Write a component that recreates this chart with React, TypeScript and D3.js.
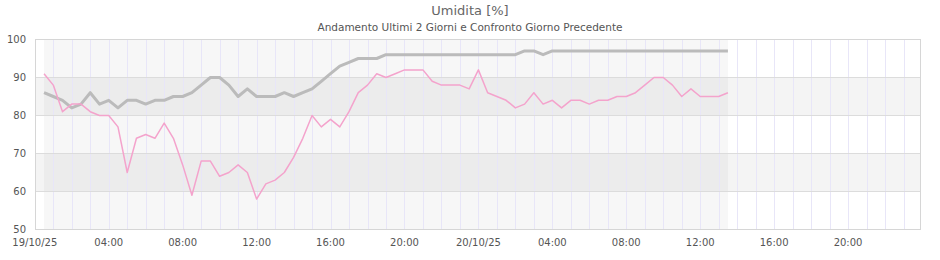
import React from "react";
import * as d3 from "d3";

const TITLE = "Umidita [%]";
const SUBTITLE = "Andamento Ultimi 2 Giorni e Confronto Giorno Precedente";

// half-hourly samples starting 19/10/25 00:30
const currentValues = [
  91, 88, 81, 83, 83, 81, 80, 80, 77, 65, 74, 75, 74, 78, 74, 67, 59, 68, 68, 64,
  65, 67, 65, 58, 62, 63, 65, 69, 74, 80, 77, 79, 77, 81, 86, 88, 91, 90, 91, 92,
  92, 92, 89, 88, 88, 88, 87, 92, 86, 85, 84, 82, 83, 86, 83, 84, 82, 84, 84, 83,
  84, 84, 85, 85, 86, 88, 90, 90, 88, 85, 87, 85, 85, 85, 86,
];
const previousValues = [
  86, 85, 84, 82, 83, 86, 83, 84, 82, 84, 84, 83, 84, 84, 85, 85, 86, 88, 90, 90,
  88, 85, 87, 85, 85, 85, 86, 85, 86, 87, 89, 91, 93, 94, 95, 95, 95, 96, 96, 96,
  96, 96, 96, 96, 96, 96, 96, 96, 96, 96, 96, 96, 97, 97, 96, 97, 97, 97, 97, 97,
  97, 97, 97, 97, 97, 97, 97, 97, 97, 97, 97, 97, 97, 97, 97,
];
const yTickValues = [50, 60, 70, 80, 90, 100];
const bandRanges: [number, number][] = [
  [60, 70],
  [80, 90],
];

const startTime = new Date(2025, 9, 19, 0, 30);
const domainStart = new Date(2025, 9, 19, 0, 0);
const domainEnd = new Date(2025, 9, 21, 0, 0);

const W = 940;
const H = 260;
const SX0 = 34.8;
const SX1 = 922;
const BX0 = 35.5;
const BX1 = 920.5;
const Y0 = 39.5;
const Y1 = 229.5;

const FONT = "DejaVu Sans, sans-serif";

export default function App() {
  const times = currentValues.map((_, i) => d3.timeMinute.offset(startTime, 30 * i));
  const x = d3.scaleTime().domain([domainStart, domainEnd]).range([SX0, SX1]);
  const y = d3.scaleLinear().domain([50, 100]).range([Y1, Y0]);

  const line = d3
    .line<number>()
    .x((_, i) => x(times[i]))
    .y((d) => y(d));

  const hourLines = d3.timeHour.every(1)!.range(d3.timeHour.offset(domainStart, 1), domainEnd);
  const labelTicks = d3.timeHour.every(4)!.range(domainStart, domainEnd);
  const fmt = (d: Date) =>
    d.getHours() === 0 && d.getMinutes() === 0 ? d3.timeFormat("%d/%m/%y")(d) : d3.timeFormat("%H:%M")(d);

  const dataX0 = x(times[0]);
  const dataX1 = x(times[times.length - 1]);

  return (
    <svg width={W} height={H} style={{ position: "absolute", left: 0, top: 0 }} fontFamily={FONT}>
      <rect x={0} y={0} width={W} height={H} fill="#ffffff" />
      <text x={470} y={15} textAnchor="middle" fontSize={13} fill="#666">
        {TITLE}
      </text>
      <text x={470} y={31} textAnchor="middle" fontSize={10.5} fill="#555">
        {SUBTITLE}
      </text>

      {/* data range shading */}
      <rect x={dataX0} y={Y0} width={dataX1 - dataX0} height={Y1 - Y0} fill="#f7f7f7" />
      {/* bands */}
      {bandRanges.map(([a, b]) => (
        <rect key={a} x={BX0} y={y(b)} width={BX1 - BX0} height={y(a) - y(b)} fill="rgba(0,0,0,0.045)" />
      ))}
      {/* vertical hour grid */}
      {hourLines.map((t) => (
        <line
          key={+t}
          x1={Math.round(x(t)) + 0.5}
          x2={Math.round(x(t)) + 0.5}
          y1={Y0}
          y2={Y1}
          stroke="#e8e6f8"
          strokeWidth={1}
        />
      ))}
      {/* horizontal grid */}
      {yTickValues.map((v) => (
        <line key={v} x1={BX0} x2={BX1} y1={y(v)} y2={y(v)} stroke="#dcdcdc" strokeWidth={1} />
      ))}
      <rect x={BX0} y={Y0} width={BX1 - BX0} height={Y1 - Y0} fill="none" stroke="#d6d6d6" strokeWidth={1} />

      {/* y labels */}
      {yTickValues.map((v) => (
        <text key={v} x={26} y={y(v)} dy="0.35em" textAnchor="end" fontSize={10} fill="#555">
          {v}
        </text>
      ))}
      {/* x labels */}
      {labelTicks.map((t) => (
        <text key={+t} x={x(t)} y={246} textAnchor="middle" fontSize={10} fill="#555">
          {fmt(t)}
        </text>
      ))}

      <path d={line(previousValues) || ""} fill="none" stroke="#bbbbbb" strokeWidth={3} strokeLinejoin="round" />
      <path d={line(currentValues) || ""} fill="none" stroke="#f4a3cc" strokeWidth={1.5} strokeLinejoin="round" />
    </svg>
  );
}
